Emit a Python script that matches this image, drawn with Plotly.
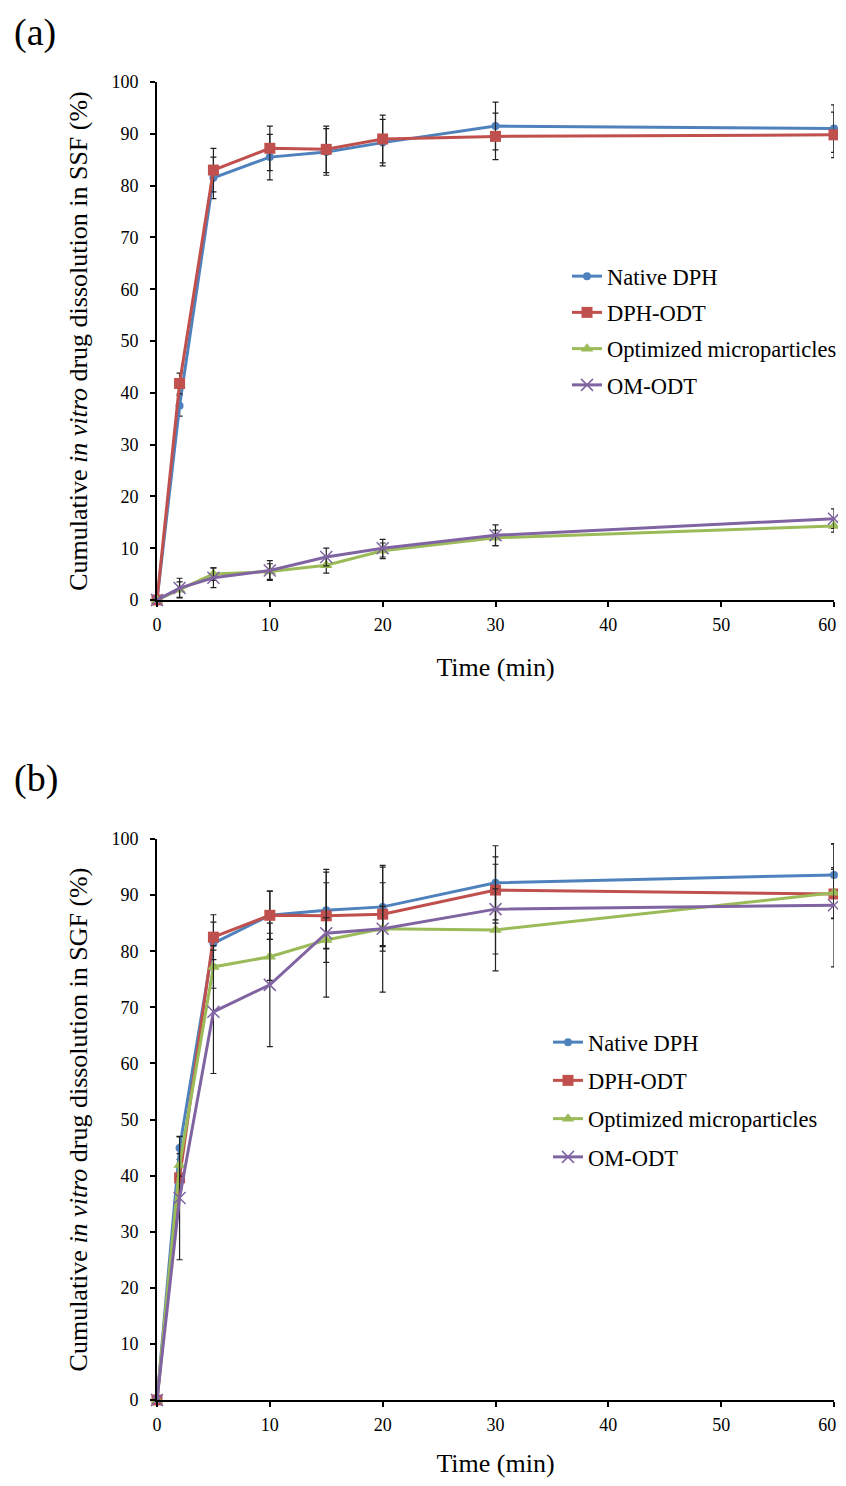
import plotly.graph_objects as go
from plotly.subplots import make_subplots

time = [0, 2, 5, 10, 15, 20, 30, 60]
names = ["Native DPH", "DPH-ODT", "Optimized microparticles", "OM-ODT"]
x_tickvals = [0, 10, 20, 30, 40, 50, 60]
x_ticktext = ["0", "10", "20", "30", "40", "50", "60\u00a0\u00a0\u00a0"]

# Panel (a): SSF
native_a = [0, 37.5, 81.5, 85.5, 86.5, 88.3, 91.5, 91.0]
native_a_err = [0, 2.0, 4.0, 4.4, 4.5, 4.5, 4.6, 4.6]
odt_a = [0, 41.8, 83.0, 87.2, 87.0, 89.0, 89.5, 89.8]
odt_a_err = [0, 2.0, 4.2, 4.3, 4.5, 4.6, 4.5, 4.4]
opt_a = [0, 2.0, 5.0, 5.5, 6.7, 9.5, 12.0, 14.3]
opt_a_err = [0, 1.5, 1.2, 1.5, 1.5, 1.5, 1.5, 1.2]
om_a = [0, 2.3, 4.3, 5.7, 8.3, 10.0, 12.5, 15.7]
om_a_err = [0, 1.9, 1.9, 1.9, 1.7, 1.7, 2.0, 1.9]

# Panel (b): SGF
native_b = [0, 44.9, 81.4, 86.4, 87.3, 87.9, 92.2, 93.6]
native_b_err = [0, 2.0, 3.8, 4.3, 6.8, 7.1, 6.6, 5.5]
odt_b = [0, 39.6, 82.5, 86.4, 86.3, 86.6, 90.9, 90.2]
odt_b_err = [0, 2.0, 4.0, 4.3, 5.9, 5.6, 5.9, 4.4]
opt_b = [0, 41.9, 77.2, 79.0, 82.0, 84.0, 83.8, 90.4]
opt_b_err = [0, 2.0, 3.8, 4.2, 4.0, 4.0, 7.3, 4.5]
om_b = [0, 36.0, 69.2, 74.0, 83.2, 84.0, 87.5, 88.2]
om_b_err = [0, 11.0, 11.0, 11.0, 11.4, 11.3, 8.0, 11.0]

colors = ["#4F81BD", "#C0504D", "#9BBB59", "#8064A2"]
markers = [
    dict(symbol="circle", size=8),
    dict(symbol="square", size=11),
    dict(symbol="triangle-up", size=11),
    dict(symbol="x-thin", size=12, line=dict(width=1.5)),
]

FONT = "Liberation Serif, Times New Roman, serif"

# page body has an 8px margin on every side
W, H = 830, 1470
L, T = 149, 74
R = W - L - 677
B = H - (1400 - 8)
PW = W - L - R
PH = H - T - B

fig = make_subplots(rows=2, cols=1, vertical_spacing=0.0)

panels = [
    (1, "legend", [native_a, odt_a, opt_a, om_a], [native_a_err, odt_a_err, opt_a_err, om_a_err]),
    (2, "legend2", [native_b, odt_b, opt_b, om_b], [native_b_err, odt_b_err, opt_b_err, om_b_err]),
]
for row, leg, ys, errs in panels:
    for i in range(4):
        mk = dict(markers[i])
        mk["color"] = colors[i]
        if "line" in mk:
            mk["line"] = dict(width=1.5, color=colors[i])
        fig.add_trace(go.Scatter(
            x=time, y=ys[i], name=names[i], mode="lines+markers",
            line=dict(color=colors[i], width=3),
            marker=mk,
            error_y=dict(type="data", array=errs[i], visible=True,
                         color="#222222", thickness=1.2, width=3),
            legend=leg, legendgroup=f"{leg}_{i}", cliponaxis=False,
        ), row=row, col=1)

def py(p):  # page pixel y -> paper y
    return 1 - (p - 8 - T) / PH

def px(p):  # page pixel x -> paper x
    return (p - 8 - L) / PW

def cx(p):  # page pixel x -> container x
    return (p - 8) / W

def cy(p):  # page pixel y -> container y
    return 1 - (p - 8) / H

fig.update_layout(
    width=W, height=H,
    margin=dict(l=L, r=R, t=T, b=B, autoexpand=False),
    plot_bgcolor="white", paper_bgcolor="white",
    font=dict(family=FONT, size=18, color="black"),
    showlegend=True,
    legend=dict(xref="container", yref="container", x=cx(567), y=cy(255),
                xanchor="left", yanchor="top",
                font=dict(family=FONT, size=22.5), bgcolor="rgba(0,0,0,0)",
                tracegroupgap=4, traceorder="grouped", itemwidth=30),
    legend2=dict(xref="container", yref="container", x=cx(548), y=cy(1021),
                 xanchor="left", yanchor="top",
                 font=dict(family=FONT, size=22.5), bgcolor="rgba(0,0,0,0)",
                 tracegroupgap=6, traceorder="grouped", itemwidth=30),
)

fig.update_layout(
    yaxis=dict(domain=[py(600), 1.0]),
    yaxis2=dict(domain=[0.0, py(839)]),
)

for r, sd in ((1, 23), (2, 27)):
    fig.update_xaxes(range=[0, 60], tickvals=x_tickvals, ticktext=x_ticktext,
                     showline=True, linecolor="black", linewidth=1.6,
                     ticks="outside", ticklen=5, tickcolor="black", tickwidth=1.5,
                     showgrid=False, zeroline=False, ticklabelstandoff=3,
                     ticklabeloverflow="allow",
                     title=dict(text="Time (min)", font=dict(family=FONT, size=26), standoff=sd),
                     tickfont=dict(family=FONT, size=18), row=r, col=1)
    fig.update_yaxes(range=[0, 100], tickvals=list(range(0, 101, 10)),
                     showline=True, linecolor="black", linewidth=1.6,
                     ticks="outside", ticklen=5, tickcolor="black", tickwidth=1.5,
                     showgrid=False, zeroline=False, ticklabelstandoff=8,
                     tickfont=dict(family=FONT, size=18), row=r, col=1)

fig.update_yaxes(title=dict(text="Cumulative <i>in vitro</i> drug dissolution in SSF (%)",
                            font=dict(family=FONT, size=26), standoff=16), row=1, col=1)
fig.update_yaxes(title=dict(text="Cumulative <i>in vitro</i> drug dissolution in SGF (%)",
                            font=dict(family=FONT, size=26), standoff=16), row=2, col=1)

fig.add_annotation(text="(a)", showarrow=False, xref="paper", yref="paper",
                   x=px(12), y=py(32), xanchor="left", yanchor="middle",
                   font=dict(family=FONT, size=38))
fig.add_annotation(text="(b)", showarrow=False, xref="paper", yref="paper",
                   x=px(12), y=py(778), xanchor="left", yanchor="middle",
                   font=dict(family=FONT, size=38))

fig.write_html("out.html")
